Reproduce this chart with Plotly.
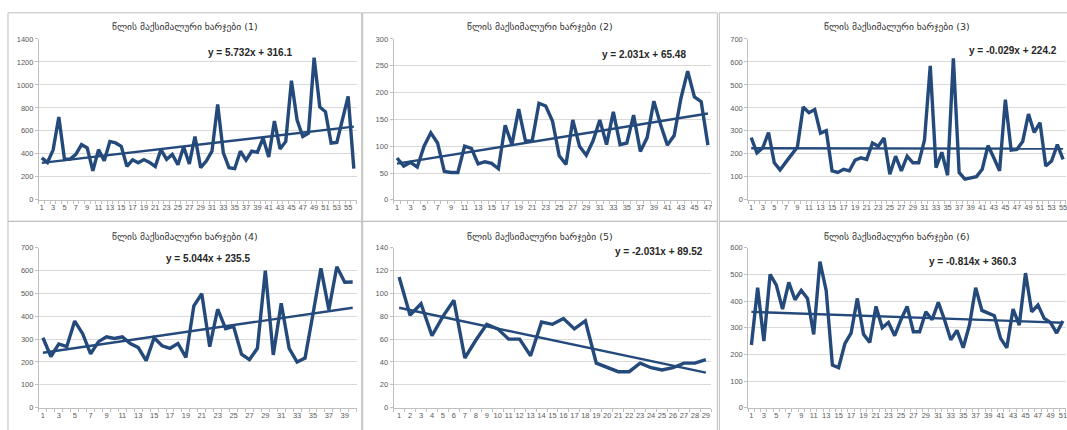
import plotly.graph_objects as go

# ---------------- data ----------------
titles = [
    "წლის მაქსიმალური ხარჯები (1)",
    "წლის მაქსიმალური ხარჯები (2)",
    "წლის მაქსიმალური ხარჯები (3)",
    "წლის მაქსიმალური ხარჯები (4)",
    "წლის მაქსიმალური ხარჯები (5)",
    "წლის მაქსიმალური ხარჯები (6)",
]

p1 = [365, 325, 435, 720, 352, 355, 395, 480, 452, 252,
      437, 340, 508, 495, 466, 292, 348, 322, 350, 325,
      290, 437, 352, 395, 305, 462, 312, 551, 280, 337,
      423, 831, 408, 280, 271, 423, 346, 423, 414, 537,
      372, 685, 443, 508, 1037, 694, 551, 580, 1237, 808,
      766, 494, 500, 709, 900, 271]
p2 = [78, 63, 70, 61, 100, 125, 106, 53, 51, 51,
      100, 96, 67, 71, 68, 58, 139, 103, 169, 110,
      110, 180, 175, 147, 82, 66, 149, 100, 83, 110,
      149, 103, 164, 103, 106, 158, 90, 116, 184, 140,
      102, 120, 189, 240, 192, 183, 102]
p3 = [271, 204, 226, 293, 161, 130, 164, 197, 230, 404,
      379, 393, 290, 301, 126, 119, 133, 126, 173, 183,
      176, 247, 233, 269, 111, 190, 126, 190, 161, 161,
      260, 583, 140, 207, 107, 616, 119, 90, 97, 101,
      133, 236, 183, 126, 436, 216, 219, 254, 373, 293,
      336, 147, 169, 240, 176]
p4 = [306, 224, 279, 267, 379, 324, 236, 289, 310, 303,
      310, 281, 263, 206, 306, 271, 260, 281, 220, 446,
      499, 267, 431, 346, 356, 234, 210, 260, 600, 231,
      457, 260, 200, 217, 410, 610, 429, 617, 549, 550]
p5 = [114.5, 81, 91, 63, 80, 94, 43.5, 59, 73, 69,
      60, 60, 45.5, 75, 73, 78, 69, 76, 39, 35,
      31.5, 31.5, 39, 35, 33, 35, 39, 39, 42]
p6 = [235, 450, 250, 500, 460, 370, 470, 405, 440, 410,
      275, 548, 440, 160, 150, 240, 280, 410, 275, 245,
      380, 300, 320, 270, 330, 380, 285, 285, 360, 330,
      395, 330, 255, 290, 225, 310, 450, 365, 355, 345,
      260, 225, 370, 310, 505, 360, 385, 335, 320, 280, 325]

series = [p1, p2, p3, p4, p5, p6]
slopes = [5.732, 2.031, -0.029, 5.044, -2.031, -0.814]
intercepts = [316.1, 65.48, 224.2, 235.5, 89.52, 360.3]
equations = ["y = 5.732x + 316.1", "y = 2.031x + 65.48", "y = -0.029x + 224.2",
             "y = 5.044x + 235.5", "y = -2.031x + 89.52", "y = -0.814x + 360.3"]
y_max = [1400, 300, 700, 700, 140, 600]
y_step = [200, 50, 100, 100, 20, 100]
label_step = [2, 2, 2, 2, 1, 2]

# ---------------- layout (pixels) ----------------
W, H = 1067, 430
col_left = [39, 394, 749]
plot_w = 318
row_top = [35.7, 249]
row_bot = [200, 412.3]
panel_x = [(8, 362), (363, 718), (720, 1080)]
panel_y = [(9, 222), (222, 440)]
title_y = [22.5, 237.5]
eq_pos = [(250, 50), (645, 52), (1014, 48), (208, 260), (660, 253), (974, 263)]

LINE = "#24497b"
GRID = "#d9d9d9"
TICKC = "#595959"

def px(x):
    return x / W

def py(y):
    return 1 - y / H

fig = go.Figure()
shapes = []
annotations = []

for k in range(6):
    r, c = divmod(k, 3)
    vals = series[k]
    n = len(vals)
    xs = list(range(1, n + 1))
    trend = [slopes[k] * x + intercepts[k] for x in xs]
    ax = "" if k == 0 else str(k + 1)
    fig.add_trace(go.Scatter(x=xs, y=vals, mode="lines",
                             line=dict(color=LINE, width=3.4),
                             xaxis="x" + ax, yaxis="y" + ax,
                             showlegend=False, hoverinfo="skip"))
    fig.add_trace(go.Scatter(x=xs, y=trend, mode="lines",
                             line=dict(color=LINE, width=2.4),
                             xaxis="x" + ax, yaxis="y" + ax,
                             showlegend=False, hoverinfo="skip"))
    x0 = px(col_left[c])
    x1 = min(1.0, px(col_left[c] + plot_w))
    tv = list(range(1, n + 1, label_step[k]))
    fig.update_layout(**{
        "xaxis" + ax: dict(
            domain=[x0, x1], anchor="y" + ax, range=[0.5, n + 0.5],
            tickmode="array", tickvals=tv, ticktext=[str(v) for v in tv],
            tickangle=0, ticks="", showgrid=False, zeroline=False,
            showline=True, linecolor="#bfbfbf", linewidth=1,
            ticklabeloverflow="allow",
            tickfont=dict(family="Liberation Sans, Arial", size=7.5, color=TICKC),
            minor=dict(tickmode="linear", tick0=0.5, dtick=1, ticks="outside",
                       ticklen=3, tickcolor="#bfbfbf", showgrid=False),
            fixedrange=True),
        "yaxis" + ax: dict(
            domain=[py(row_bot[r]), py(row_top[r])], anchor="x" + ax,
            range=[0, y_max[k]], tickmode="linear", tick0=0, dtick=y_step[k],
            ticks="outside", ticklen=3, tickcolor="#bfbfbf",
            showgrid=True, gridcolor=GRID, gridwidth=1, zeroline=False,
            showline=True, linecolor="#bfbfbf", linewidth=1,
            tickfont=dict(family="Liberation Sans, Arial", size=7.5, color=TICKC),
            fixedrange=True),
    })
    # panel border
    shapes.append(dict(type="rect", xref="paper", yref="paper",
                       x0=px(panel_x[c][0]), x1=px(panel_x[c][1]),
                       y0=py(panel_y[r][1]), y1=py(panel_y[r][0]),
                       line=dict(color="#bfbfbf", width=1), layer="below"))
    # title
    annotations.append(dict(text=titles[k], xref="paper", yref="paper",
                            x=px((panel_x[c][0] + min(panel_x[c][1], panel_x[c][0] + 355)) / 2),
                            y=py(title_y[r]), xanchor="center", yanchor="middle",
                            showarrow=False,
                            font=dict(family="DejaVu Sans", size=9.5, color="#333333")))
    # trend equation
    annotations.append(dict(text="<b>" + equations[k] + "</b>", xref="paper", yref="paper",
                            x=px(eq_pos[k][0]), y=py(eq_pos[k][1]),
                            xanchor="center", yanchor="middle", showarrow=False,
                            font=dict(family="Liberation Sans, Arial", size=10, color="#262626")))

fig.update_layout(width=W, height=H, margin=dict(l=0, r=0, t=0, b=0),
                  paper_bgcolor="white", plot_bgcolor="white",
                  shapes=shapes, annotations=annotations, showlegend=False)

fig.write_html("out.html", config={"displayModeBar": False, "staticPlot": True},
               post_script="document.body.style.margin='0px';document.body.style.overflow='hidden';")
